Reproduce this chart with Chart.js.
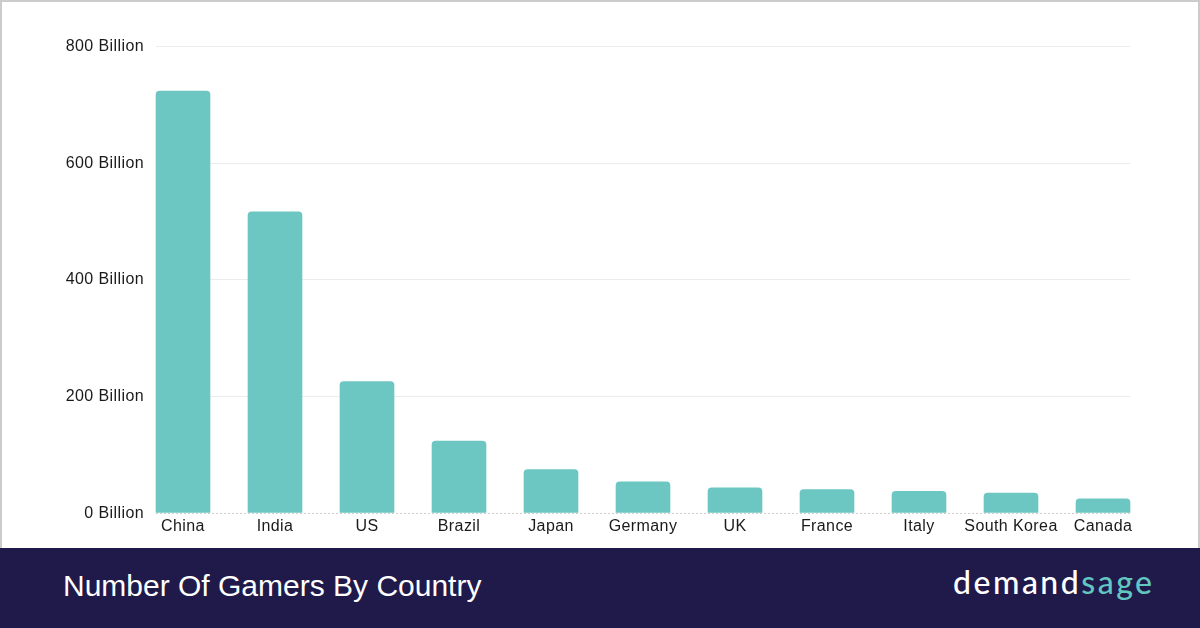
<!DOCTYPE html>
<html>
<head>
<meta charset="utf-8">
<script src="https://cdn.jsdelivr.net/npm/chart.js@4.4.1/dist/chart.umd.min.js"></script>
<style>
  html, body { margin: 0; padding: 0; background: #fff; }
  #wrap { position: relative; width: 1200px; height: 628px; overflow: hidden; }
  #plot {
    position: absolute; left: 0; top: 0; width: 1196px; height: 546px;
    border: 2px solid #cccccc; border-bottom: none; background: #fff;
  }
  #footer {
    position: absolute; left: 0; top: 548px; width: 1200px; height: 80px;
    background: #201a4b;
  }
  #title {
    position: absolute; left: 63px; top: 21px;
    font-family: "Liberation Sans", Arial, sans-serif; font-size: 30px;
    color: #ffffff; white-space: nowrap;
  }
  #logo {
    position: absolute; left: 953px; top: 14px;
    font-family: "Lato", "Open Sans", sans-serif; font-size: 32px; font-weight: 500;
    color: #ffffff; letter-spacing: 2.5px; white-space: nowrap;
  }
  #logo span { color: #62c6c1; }
</style>
</head>
<body>
<div id="wrap">
  <div id="plot"><canvas id="chart-gamers" width="1196" height="546"></canvas></div>
  <div id="footer">
    <div id="title">Number Of Gamers By Country</div>
    <div id="logo">demand<span>sage</span></div>
  </div>
</div>
<script>
// gamers per country (axis says "Billion", kept as in the picture)
const countries = ['China', 'India', 'US', 'Brazil', 'Japan', 'Germany', 'UK', 'France', 'Italy', 'South Korea', 'Canada'];
const gamers    = [722.6, 516, 225, 123, 74, 53, 43, 40, 37, 34, 24];
const yTicks    = [0, 200, 400, 600, 800];

const FONT = '"Liberation Sans", Arial, sans-serif';

// grid + y labels: lines run from first bar's left edge to last bar's right edge
const gridFromBars = {
  id: 'gridFromBars',
  beforeDraw(chart) {
    chart.ctx.letterSpacing = '0.4px';
  },
  beforeDatasetsDraw(chart) {
    const { ctx, scales } = chart;
    const bars = chart.getDatasetMeta(0).data;
    const first = bars[0], last = bars[bars.length - 1];
    const x0 = first.x - first.width / 2;
    const x1 = last.x + last.width / 2;
    ctx.save();
    yTicks.forEach(v => {
      const y = Math.round(scales.y.getPixelForValue(v)) + 0.5;
      ctx.beginPath();
      ctx.strokeStyle = v === 0 ? '#cfcfcf' : '#ececec';
      ctx.setLineDash(v === 0 ? [2, 2] : []);
      ctx.lineWidth = 1;
      ctx.moveTo(x0, y);
      ctx.lineTo(x1, y);
      ctx.stroke();

      ctx.fillStyle = '#1a1a1a';
      ctx.font = '16px ' + FONT;
      ctx.textAlign = 'right';
      ctx.textBaseline = 'middle';
      ctx.fillText(v + ' Billion', x0 - 12, y);
    });
    ctx.restore();
  },
};

new Chart(document.getElementById('chart-gamers'), {
  type: 'bar',
  data: {
    labels: countries,
    datasets: [{
      data: gamers,
      backgroundColor: '#6cc7c2',
      borderRadius: { topLeft: 4, topRight: 4 },
      borderSkipped: 'bottom',
      borderWidth: 0,
      barThickness: 54,
    }],
  },
  options: {
    responsive: false,
    animation: false,
    layout: { padding: { left: 135, right: 49, top: 44, bottom: 8 } },
    plugins: { legend: { display: false }, tooltip: { enabled: false } },
    scales: {
      x: {
        grid: { display: false, drawTicks: false },
        border: { display: false },
        ticks: {
          color: '#1a1a1a', padding: 4, maxRotation: 0, autoSkip: false,
          font: { family: FONT, size: 16 },
        },
      },
      y: {
        display: false,
        min: 0, max: 800,
      },
    },
  },
  plugins: [gridFromBars],
});
</script>
</body>
</html>
